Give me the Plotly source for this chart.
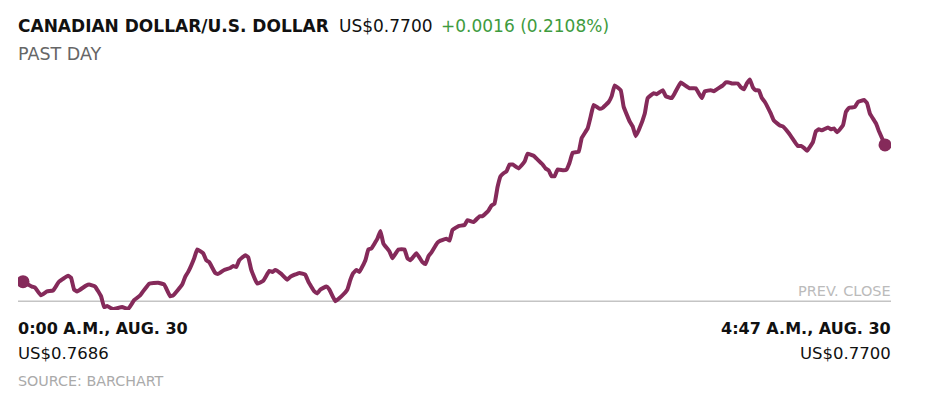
import plotly.graph_objects as go

# ---- data ----
minutes = [0, 3, 4, 6, 8, 10, 12, 15, 16, 17, 18, 21, 22, 24, 26, 27, 28, 30, 33, 35,
           37, 39, 42, 45, 47, 49, 50, 53, 54, 55, 57, 58, 60, 61, 62, 64, 65, 67, 69, 70,
           71, 72, 74, 75, 76, 78, 80, 82, 83, 84, 86, 88, 89, 92, 94, 95, 97, 98, 99, 101,
           102, 104, 106, 108, 109, 110, 111, 112, 114, 115, 116, 118, 119, 120, 122, 123, 125, 127, 128, 129,
           131, 133, 134, 135, 136, 138, 139, 141, 142, 143, 145, 147, 148, 150, 152, 153, 155, 156, 157, 158,
           159, 160, 161, 162, 163, 165, 167, 168, 170, 171, 173, 174, 175, 176, 177, 178, 180, 181, 182, 183,
           185, 186, 188, 189, 190, 192, 193, 195, 196, 197, 199, 200, 202, 203, 204, 205, 207, 208, 210, 211,
           213, 214, 216, 217, 219, 220, 222, 224, 225, 226, 227, 229, 230, 231, 233, 234, 235, 236, 238, 239,
           240, 241, 242, 243, 244, 245, 246, 247, 249, 250, 252, 253, 255, 257, 258, 259, 260, 261, 263, 264,
           265, 266, 268, 269, 270, 271, 273, 274, 275, 277, 278, 280, 281, 282, 284, 285, 287]
prices = [0.76860, 0.76855, 0.76854, 0.76846, 0.76850, 0.76851, 0.76860, 0.76866, 0.76864, 0.76852,
          0.76850, 0.76856, 0.76857, 0.76855, 0.76845, 0.76834, 0.76835, 0.76832, 0.76834, 0.76832,
          0.76841, 0.76846, 0.76858, 0.76859, 0.76857, 0.76845, 0.76846, 0.76857, 0.76865, 0.76870,
          0.76884, 0.76893, 0.76889, 0.76882, 0.76880, 0.76869, 0.76868, 0.76872, 0.76874, 0.76876,
          0.76875, 0.76882, 0.76887, 0.76885, 0.76872, 0.76858, 0.76861, 0.76871, 0.76870, 0.76872,
          0.76868, 0.76862, 0.76865, 0.76869, 0.76867, 0.76860, 0.76850, 0.76848, 0.76852, 0.76855,
          0.76852, 0.76840, 0.76845, 0.76852, 0.76862, 0.76869, 0.76872, 0.76870, 0.76882, 0.76893,
          0.76894, 0.76904, 0.76912, 0.76899, 0.76891, 0.76884, 0.76893, 0.76893, 0.76884, 0.76882,
          0.76889, 0.76880, 0.76878, 0.76886, 0.76890, 0.76900, 0.76902, 0.76904, 0.76902, 0.76913,
          0.76917, 0.76918, 0.76923, 0.76921, 0.76927, 0.76927, 0.76933, 0.76938, 0.76940, 0.76957,
          0.76968, 0.76971, 0.76973, 0.76980, 0.76980, 0.76976, 0.76983, 0.76991, 0.76989, 0.76986,
          0.76980, 0.76976, 0.76974, 0.76968, 0.76968, 0.76975, 0.76974, 0.76975, 0.76982, 0.76992,
          0.76993, 0.77007, 0.77017, 0.77029, 0.77041, 0.77037, 0.77038, 0.77044, 0.77050, 0.77061,
          0.77056, 0.77039, 0.77024, 0.77019, 0.77009, 0.77015, 0.77032, 0.77048, 0.77053, 0.77052,
          0.77056, 0.77050, 0.77048, 0.77053, 0.77064, 0.77062, 0.77058, 0.77058, 0.77053, 0.77048,
          0.77055, 0.77056, 0.77055, 0.77057, 0.77061, 0.77064, 0.77064, 0.77063, 0.77063, 0.77059,
          0.77057, 0.77063, 0.77067, 0.77059, 0.77056, 0.77056, 0.77048, 0.77044, 0.77032, 0.77025,
          0.77020, 0.77019, 0.77012, 0.77003, 0.76999, 0.76999, 0.76997, 0.76994, 0.77003, 0.77014,
          0.77016, 0.77015, 0.77018, 0.77016, 0.77017, 0.77013, 0.77020, 0.77034, 0.77038, 0.77039,
          0.77044, 0.77046, 0.77043, 0.77032, 0.77022, 0.77014, 0.77000]
prev_close = 0.7684
title = "CANADIAN DOLLAR/U.S. DOLLAR"
last_price = "US$0.7700"
change = "+0.0016 (0.2108%)"
subtitle = "PAST DAY"
start_label = "0:00 A.M., AUG. 30"
start_price = "US$0.7686"
end_label = "4:47 A.M., AUG. 30"
end_price = "US$0.7700"
source = "SOURCE: BARCHART"

LINE = "#852a5a"
FONT = "DejaVu Sans"

fig = go.Figure()
fig.add_trace(go.Scatter(x=minutes, y=prices, mode="lines",
                         line=dict(color=LINE, width=4, shape="spline", smoothing=0.3),
                         hoverinfo="skip"))
fig.add_trace(go.Scatter(x=[minutes[0], minutes[-1]], y=[prices[0], prices[-1]], mode="markers",
                         marker=dict(color=LINE, size=13), hoverinfo="skip"))

fig.add_shape(type="line", xref="paper", x0=0, x1=1, yref="y", y0=prev_close, y1=prev_close,
              line=dict(color="#c4c4c4", width=1.5), layer="below")

ann = []
ann.append(dict(text=f"<b>{title}</b>", x=0, y=1.137, xanchor="left", yanchor="middle", xshift=-2,
                font=dict(size=17, color="#111", family=FONT)))
ann.append(dict(text=last_price, x=0.3677, y=1.137, xanchor="left", yanchor="middle", xshift=-2,
                font=dict(size=17, color="#111", family=FONT)))
ann.append(dict(text=change, x=0.4845, y=1.137, xanchor="left", yanchor="middle", xshift=-2,
                font=dict(size=17, color="#3e9b3e", family=FONT)))
ann.append(dict(text=subtitle, x=0, y=1.025, xanchor="left", yanchor="middle", xshift=-2,
                font=dict(size=17.5, color="#666", family=FONT)))
ann.append(dict(text="PREV. CLOSE", x=1, y=prev_close, yref="y", xanchor="right", yanchor="bottom",
                xshift=2, font=dict(size=14.5, color="#bbb", family=FONT)))
ann.append(dict(text=f"<b>{start_label}</b>", x=0, y=-0.075, xanchor="left", yanchor="middle", xshift=-2,
                font=dict(size=16, color="#111", family=FONT)))
ann.append(dict(text=start_price, x=0, y=-0.172, xanchor="left", yanchor="middle", xshift=-2,
                font=dict(size=16.5, color="#111", family=FONT)))
ann.append(dict(text=f"<b>{end_label}</b>", x=1, y=-0.075, xanchor="right", yanchor="middle", xshift=2,
                font=dict(size=16, color="#111", family=FONT)))
ann.append(dict(text=end_price, x=1, y=-0.172, xanchor="right", yanchor="middle", xshift=2,
                font=dict(size=16.5, color="#111", family=FONT)))
ann.append(dict(text=source, x=0, y=-0.285, xanchor="left", yanchor="middle", xshift=-2,
                font=dict(size=14.3, color="#aaa", family=FONT)))
for a in ann:
    a.setdefault("xref", "paper")
    a.setdefault("yref", "paper")
    a["showarrow"] = False

fig.update_layout(
    width=917, height=396,
    margin=dict(l=10, r=34, t=52, b=94),
    paper_bgcolor="white", plot_bgcolor="white",
    showlegend=False,
    annotations=ann,
    xaxis=dict(range=[-1.665, 289.0], visible=False, fixedrange=True),
    yaxis=dict(range=[0.768310, 0.770870], visible=False, fixedrange=True),
)

fig.write_html("out.html", config={"displayModeBar": False})
